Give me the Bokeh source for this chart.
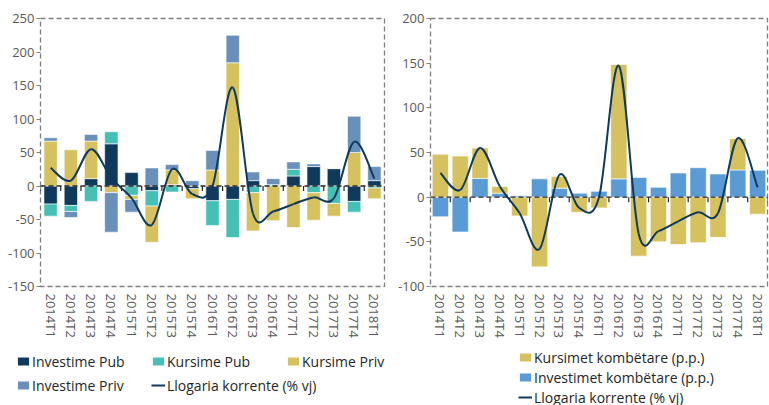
import math
from bokeh.plotting import figure
from bokeh.models import Range1d, FixedTicker, Span, Legend, LegendItem, ColumnDataSource
from bokeh.layouts import row, column
from bokeh.embed import file_html
from bokeh.resources import INLINE

# ---------------- data ----------------
categories = ["2014T1", "2014T2", "2014T3", "2014T4", "2015T1", "2015T2", "2015T3", "2015T4",
              "2016T1", "2016T2", "2016T3", "2016T4", "2017T1", "2017T2", "2017T3", "2017T4", "2018T1"]

# left chart (stack order: Investime Pub, Kursime Pub, Kursime Priv, Investime Priv)
investime_pub = [-27, -29, 11, 63, 20, -7, 2, -4, -22, -20, 8, 0, 15, 29, 26, -23, 8]
kursime_pub = [-18, -9, -23, 18, -14, -23, -9, 0, -37, -57, -10, 2, 10, -10, -26, -16, -3]
kursime_priv = [67, 54, 56, -10, -6, -54, 22, -15, 24, 184, -57, -52, -62, -41, -19, 50, -16]
investime_priv = [5, -9, 10, -59, -19, 27, 8, 8, 29, 41, 13, 9, 11, 4, 0, 54, 21]

# current account (% y/y), same line on both charts
llogaria = [27, 8, 55, 12, -18, -58, 25, -12, 0, 147, -41, -38, -27, -17, -18, 66, 11]

# right chart
kursimet_komb = [48, 46, 34, 7.5, -21, -78, 13, -17, -12, 128, -66, -50, -53, -51, -45, 35, -19]
investimet_komb = [-22, -39, 21, 4.5, 1.5, 20.5, 10, 4.5, 6.5, 20.5, 22, 11, 27, 33, 26, 30.5, 30]

left_ticks = [-150, -100, -50, 0, 50, 100, 150, 200, 250]
right_ticks = [-100, -50, 0, 50, 100, 150, 200]

# ---------------- style ----------------
FONT = "Open Sans"
C_NAVY = "#0f3a5c"
C_TEAL = "#46c0b5"
C_MUSTARD = "#d5c15e"
C_STEEL = "#6990bb"
C_BLUE = "#5b9bd5"
C_LINE = "#0f3a5c"
FIG_H = 340
BORDER_TOP = 18
BORDER_BOTTOM = 54
FRAME_H = FIG_H - BORDER_TOP - BORDER_BOTTOM
LEG_H = 65
LEFT_W = 390
RIGHT_W = 379

n = len(categories)
xs = list(range(n))
NAN = float("nan")


def stack(series_list):
    pos = [0.0] * n
    neg = [0.0] * n
    out = []
    for s in series_list:
        b, t = [], []
        for i, v in enumerate(s):
            if v >= 0:
                b.append(pos[i]); t.append(pos[i] + v); pos[i] += v
            else:
                b.append(neg[i]); t.append(neg[i] + v); neg[i] += v
        out.append((b, t))
    return out


def make_fig(width, ymin, ymax, yticks, bl, br):
    p = figure(width=width, height=FIG_H, x_range=Range1d(-0.5, n - 0.5), y_range=Range1d(ymin, ymax),
               output_backend="svg", toolbar_location=None,
               min_border_top=BORDER_TOP, min_border_bottom=BORDER_BOTTOM,
               min_border_left=bl, min_border_right=br)
    p.xgrid.visible = False
    p.ygrid.visible = False
    p.outline_line_color = "#7f7f7f"
    p.outline_line_dash = "5 3"
    p.outline_line_width = 1.3
    p.border_fill_color = "white"
    p.background_fill_color = "white"

    ya = p.yaxis[0]
    ya.ticker = FixedTicker(ticks=yticks)
    ya.major_label_overrides = {t: str(t) for t in yticks}
    ya.axis_line_color = None
    ya.major_tick_in = 0
    ya.major_tick_out = 4
    ya.major_tick_line_color = "#7f7f7f"
    ya.minor_tick_line_color = None
    ya.major_label_text_font = FONT
    ya.major_label_text_font_size = "13px"
    ya.major_label_text_color = "#595959"
    ya.major_label_standoff = 2

    xa = p.xaxis[0]
    xa.ticker = FixedTicker(ticks=xs)
    xa.major_label_overrides = {i: c for i, c in enumerate(categories)}
    xa.axis_line_color = None
    xa.major_tick_line_color = None
    xa.major_tick_out = 0
    xa.major_tick_in = 0
    xa.minor_tick_line_color = None
    xa.major_label_orientation = -math.pi / 2
    xa.major_label_text_font = FONT
    xa.major_label_text_font_size = "13px"
    xa.major_label_text_color = "#595959"
    xa.major_label_standoff = 7

    # zero line with category tick marks
    p.add_layout(Span(location=0, dimension="width", line_color="#262626",
                      line_dash="5 3", line_width=1.3))
    tick_len = 5 * (ymax - ymin) / FRAME_H
    bounds = [i - 0.5 for i in range(n + 1)]
    p.segment(x0=bounds, y0=[0] * len(bounds), x1=bounds, y1=[-tick_len] * len(bounds),
              line_color="#262626", line_width=1.2)
    return p


def add_line(p):
    x0, y0, x1, y1, cx0, cy0, cx1, cy1 = [], [], [], [], [], [], [], []
    y = llogaria
    for i in range(n - 1):
        xp = xs[i - 1] if i > 0 else xs[i]
        yp = y[i - 1] if i > 0 else y[i]
        xn = xs[i + 2] if i + 2 < n else xs[i + 1]
        yn = y[i + 2] if i + 2 < n else y[i + 1]
        x0.append(xs[i]); y0.append(y[i]); x1.append(xs[i + 1]); y1.append(y[i + 1])
        cx0.append(xs[i] + (xs[i + 1] - xp) / 6.0); cy0.append(y[i] + (y[i + 1] - yp) / 6.0)
        cx1.append(xs[i + 1] - (xn - xs[i]) / 6.0); cy1.append(y[i + 1] - (yn - y[i]) / 6.0)
    return p.bezier(x0=x0, y0=y0, x1=x1, y1=y1, cx0=cx0, cy0=cy0, cx1=cx1, cy1=cy1,
                    line_color=C_LINE, line_width=2)


def legend_fig(width):
    q = figure(width=width, height=LEG_H, x_range=Range1d(0, 1), y_range=Range1d(0, 1),
               output_backend="svg", toolbar_location=None,
               x_axis_location=None, y_axis_location=None,
               min_border=0, min_border_left=0, min_border_right=0,
               min_border_top=0, min_border_bottom=0)
    q.xgrid.visible = False
    q.ygrid.visible = False
    q.outline_line_color = None
    q.border_fill_color = "white"
    q.background_fill_color = "white"
    return q


def legend_style(lg, label_height, spacing):
    lg.border_line_color = None
    lg.background_fill_alpha = 0
    lg.padding = 0
    lg.margin = 0
    lg.spacing = spacing
    lg.glyph_width = 14
    lg.glyph_height = 10
    lg.label_height = label_height
    lg.label_standoff = 2
    lg.label_text_font = FONT
    lg.label_text_font_size = "14px"
    lg.label_text_color = "#262626"


# ---------------- left chart ----------------
left = make_fig(LEFT_W, -150, 250, left_ticks, 40, 6)
left_series = [("Investime Pub", investime_pub, C_NAVY), ("Kursime Pub", kursime_pub, C_TEAL),
               ("Kursime Priv", kursime_priv, C_MUSTARD), ("Investime Priv", investime_priv, C_STEEL)]
for (name, vals, col), (b, t) in zip(left_series, stack([s[1] for s in left_series])):
    src = ColumnDataSource(dict(x=xs, bottom=b, top=t))
    left.vbar(x="x", bottom="bottom", top="top", width=0.66, source=src,
              fill_color=col, line_color="white", line_width=1, line_alpha=0.6)
add_line(left)

# legend-only strip below the left chart (its glyphs hold no drawable data)
left_leg = legend_fig(LEFT_W)
lr = {}
for name, vals, col in left_series:
    lr[name] = left_leg.vbar(x=[NAN], top=[NAN], width=0.5, fill_color=col, line_color=None)
lr["line"] = left_leg.line(x=[NAN, NAN], y=[NAN, NAN], line_color=C_LINE, line_width=2)

lg_a = Legend(items=[LegendItem(label="Investime Pub", renderers=[lr["Investime Pub"]]),
                     LegendItem(label="Kursime Pub", renderers=[lr["Kursime Pub"]]),
                     LegendItem(label="Kursime Priv", renderers=[lr["Kursime Priv"]])],
              orientation="horizontal", location=(16, 34))
legend_style(lg_a, 20, 6)
lg_a.label_width = 113
lg_b = Legend(items=[LegendItem(label="Investime Priv", renderers=[lr["Investime Priv"]]),
                     LegendItem(label="Llogaria korrente (% vj)", renderers=[lr["line"]])],
              orientation="horizontal", location=(16, 10))
legend_style(lg_b, 20, 6)
lg_b.label_width = 113
left_leg.add_layout(lg_a)
left_leg.add_layout(lg_b)

# ---------------- right chart ----------------
right = make_fig(RIGHT_W, -100, 200, right_ticks, 40, 2)
right_series = [("Investimet kombëtare (p.p.)", investimet_komb, C_BLUE),
                ("Kursimet kombëtare (p.p.)", kursimet_komb, C_MUSTARD)]
for (name, vals, col), (b, t) in zip(right_series, stack([s[1] for s in right_series])):
    src = ColumnDataSource(dict(x=xs, bottom=b, top=t))
    right.vbar(x="x", bottom="bottom", top="top", width=0.82, source=src,
               fill_color=col, line_color="white", line_width=1, line_alpha=0.6)
add_line(right)

right_leg = legend_fig(RIGHT_W)
rr = {}
for name, vals, col in right_series:
    rr[name] = right_leg.vbar(x=[NAN], top=[NAN], width=0.5, fill_color=col, line_color=None)
rr["line"] = right_leg.line(x=[NAN, NAN], y=[NAN, NAN], line_color=C_LINE, line_width=2)

lg_r = Legend(items=[LegendItem(label="Kursimet kombëtare (p.p.)", renderers=[rr["Kursimet kombëtare (p.p.)"]]),
                     LegendItem(label="Investimet kombëtare (p.p.)", renderers=[rr["Investimet kombëtare (p.p.)"]]),
                     LegendItem(label="Llogaria korrente (% vj)", renderers=[rr["line"]])],
              orientation="vertical", location=(128, -2))
legend_style(lg_r, 20, 0)
right_leg.add_layout(lg_r)

layout = column(row(left, right), row(left_leg, right_leg))
open("out.html", "w").write(file_html(layout, INLINE))
